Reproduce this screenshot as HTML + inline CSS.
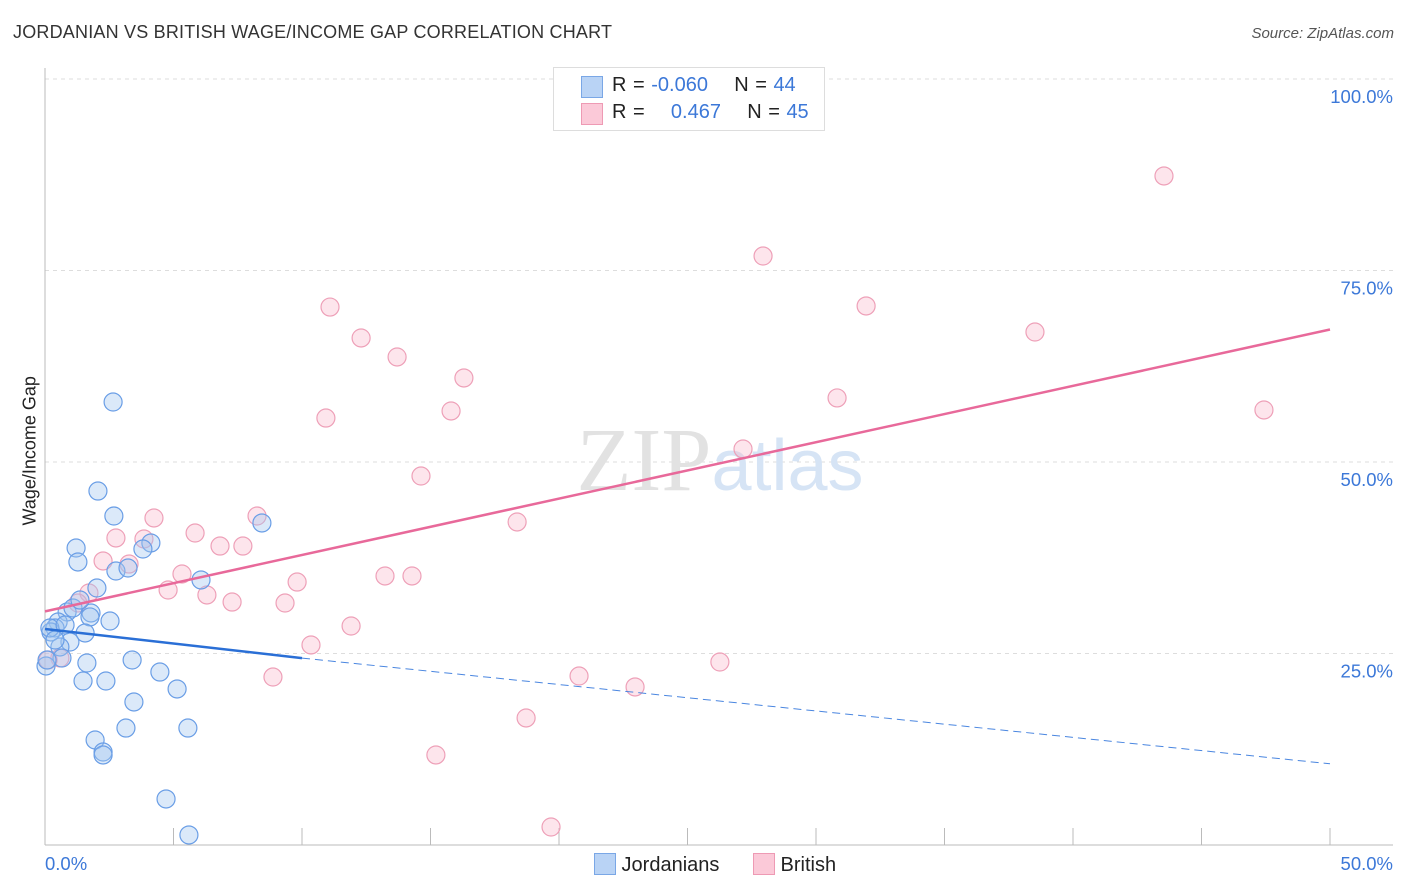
<!DOCTYPE html>
<html><head><meta charset="utf-8"><style>
body{margin:0;background:#fff;font-family:"Liberation Sans",sans-serif;}
#wrap{position:relative;width:1406px;height:892px;overflow:hidden;}
.t{position:absolute;white-space:nowrap;}
</style></head><body>
<div id="wrap">
<div class="t" style="left:13px;top:22px;font-size:18px;color:#333;letter-spacing:0.2px">JORDANIAN VS BRITISH WAGE/INCOME GAP CORRELATION CHART</div>
<div class="t" style="right:12px;top:25px;font-size:15px;color:#555;font-style:italic">Source: ZipAtlas.com</div>
<div class="t" style="left:-40px;top:445px;font-size:18px;color:#222;transform:rotate(-90deg);width:140px;text-align:center">Wage/Income Gap</div>
<svg id="plot" width="1406" height="892" style="position:absolute;left:0;top:0"></svg>
<div style="position:absolute;left:553px;top:67px;width:270px;height:62px;border:1px solid #ddd;background:#fff;font-size:20px;">
 <div style="position:absolute;left:27px;top:8px;width:20px;height:20px;background:#b9d3f5;border:1px solid #7aa7e6"></div>
 <div class="t" style="left:58px;top:6px;color:#222;word-spacing:1px">R = <span style="color:#3c78d8">-0.060</span>&nbsp;&nbsp;&nbsp;&nbsp;N = <span style="color:#3c78d8">44</span></div>
 <div style="position:absolute;left:27px;top:35px;width:20px;height:20px;background:#fbc9d8;border:1px solid #ee9ab4"></div>
 <div class="t" style="left:58px;top:33px;color:#222;word-spacing:1px">R = &nbsp;&nbsp;&nbsp;<span style="color:#3c78d8">0.467</span>&nbsp;&nbsp;&nbsp;&nbsp;N = <span style="color:#3c78d8">45</span></div>
</div>
<div style="position:absolute;left:594px;top:853px;font-size:20px;color:#222">
 <span style="display:inline-block;width:20px;height:20px;background:#b9d3f5;border:1px solid #7aa7e6;vertical-align:-4px"></span> Jordanians
 <span style="display:inline-block;width:20px;height:20px;background:#fbc9d8;border:1px solid #ee9ab4;vertical-align:-4px;margin-left:28px"></span> British
</div>
</div>
<script>
const xTicks=[0,50];
const yTicks=[25,50,75,100];
const blueX=[], blueY=[], pinkX=[], pinkY=[];
const bluePx=[[113,402],[98,491],[114,516],[262,523],[76,548],[78,562],[151,543],[143,549],[116,571],[128,568],[201,580],[97,588],[67,612],[73,608],[91,613],[90,617],[110,621],[58,622],[55,628],[51,632],[85,633],[70,642],[60,647],[62,658],[87,663],[46,666],[132,660],[160,672],[83,681],[106,681],[177,689],[134,702],[126,728],[188,728],[95,740],[103,752],[103,755],[166,799],[189,835],[50,628],[80,600],[55,640],[65,625],[47,660]];
const pinkPx=[[1164,176],[763,256],[330,307],[866,306],[361,338],[1035,332],[397,357],[464,378],[326,418],[451,411],[837,398],[1264,410],[743,449],[421,476],[154,518],[257,516],[517,522],[195,533],[116,538],[144,539],[220,546],[243,546],[103,561],[129,564],[182,574],[297,582],[385,576],[412,576],[168,590],[207,595],[232,602],[89,593],[285,603],[78,603],[351,626],[311,645],[720,662],[273,677],[579,676],[635,687],[526,718],[436,755],[551,827],[60,658],[48,660]];
const blueLine=[[0,28.2],[10,24.4],[50,10.6]];
const pinkLine=[[0,30.5],[50,67.3]];
const X=v=>45+v/50*1285, Y=v=>845-v/100*766;
bluePx.forEach(p=>{blueX.push(+((p[0]-45)/1285*50).toFixed(2));blueY.push(+((845-p[1])/766*100).toFixed(2));});
pinkPx.forEach(p=>{pinkX.push(+((p[0]-45)/1285*50).toFixed(2));pinkY.push(+((845-p[1])/766*100).toFixed(2));});
const svg=document.getElementById('plot');const NS='http://www.w3.org/2000/svg';
function mk(t,a){const e=document.createElementNS(NS,t);for(const k in a)e.setAttribute(k,a[k]);svg.appendChild(e);return e;}
yTicks.forEach(v=>{const g=mk('line',{x1:45,x2:1393,y1:Y(v),y2:Y(v),stroke:'#ddd','stroke-dasharray':'4,4'});


const t=mk('text',{x:1393,y:Y(v)+24,'text-anchor':'end','font-size':18.5,fill:'#3c78d8','font-family':'Liberation Sans'});t.textContent=v.toFixed(1)+'%';

});
const ax=mk('line',{x1:45,x2:45,y1:68,y2:845,stroke:'#bbb'});
const bx=mk('line',{x1:45,x2:1393,y1:845,y2:845,stroke:'#bbb'});
for(let i=0;i<=10;i++){const l=mk('line',{x1:X(i*5),x2:X(i*5),y1:828,y2:845,stroke:'#bbb'});}
xTicks.forEach((v,i)=>{const t=mk('text',{x:i?1393:45,y:870,'text-anchor':i?'end':'start','font-size':18.5,fill:'#3c78d8','font-family':'Liberation Sans'});t.textContent=v.toFixed(1)+'%';

});
const wm=mk('text',{x:720,y:490,'text-anchor':'middle','font-size':90,fill:'#e2e2e2','font-family':'Liberation Serif'});wm.innerHTML='ZIP<tspan fill="#d6e4f5" font-family="Liberation Sans" font-size="72">atlas</tspan>';

function dot(x,y,f,s,n){const c=mk('circle',{cx:X(x),cy:Y(y),r:9,fill:f,stroke:s,'stroke-width':1.2});

}
pinkX.forEach((x,i)=>dot(x,pinkY[i],'rgba(248,180,200,0.35)','#eea0b8','british-point'));
blueX.forEach((x,i)=>dot(x,blueY[i],'rgba(160,196,240,0.38)','#6a9ee6','jordanian-point'));
const pl=mk('line',{x1:X(pinkLine[0][0]),y1:Y(pinkLine[0][1]),x2:X(pinkLine[1][0]),y2:Y(pinkLine[1][1]),stroke:'#e8699a','stroke-width':2.5});

const b1=mk('line',{x1:X(blueLine[0][0]),y1:Y(blueLine[0][1]),x2:X(blueLine[1][0]),y2:Y(blueLine[1][1]),stroke:'#2a6fd6','stroke-width':2.5});

const b2=mk('line',{x1:X(blueLine[1][0]),y1:Y(blueLine[1][1]),x2:X(blueLine[2][0]),y2:Y(blueLine[2][1]),stroke:'#4a86e0','stroke-width':1,'stroke-dasharray':'8,5'});

</script>
</body></html>
